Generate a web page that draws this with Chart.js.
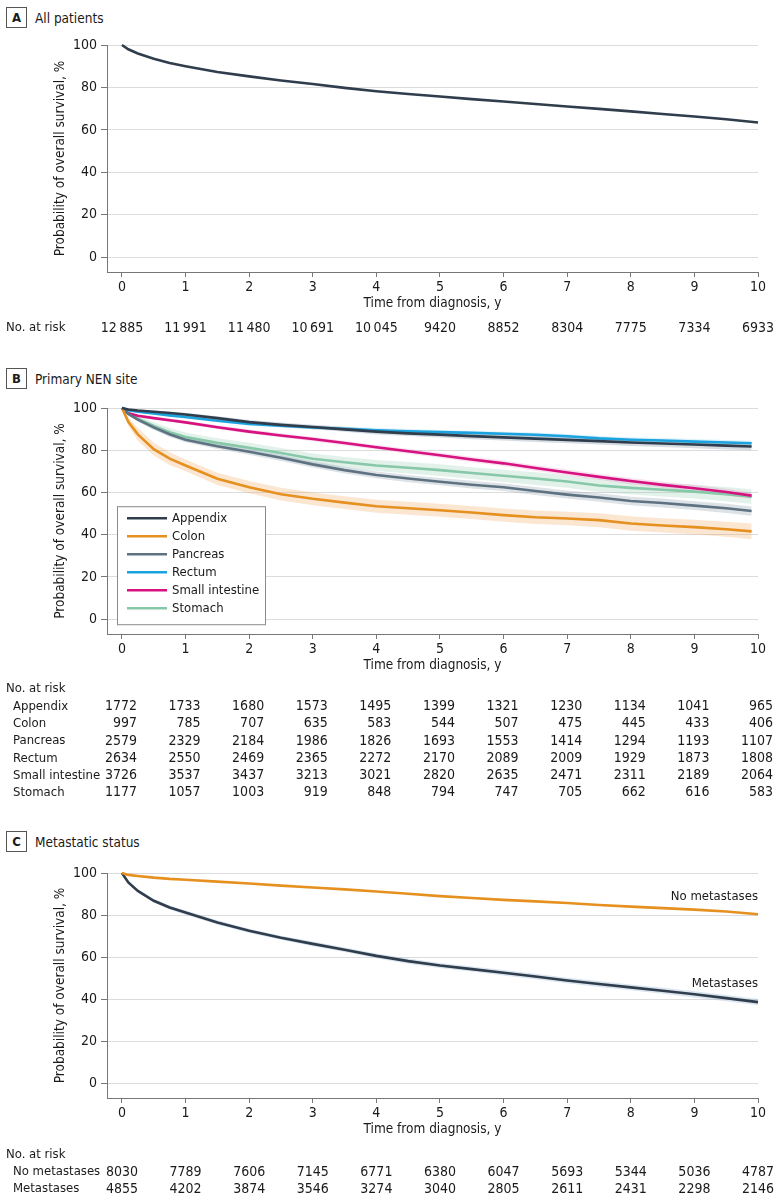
<!DOCTYPE html>
<html>
<head>
<meta charset="utf-8">
<script src="https://cdn.jsdelivr.net/npm/chart.js@4.4.1/dist/chart.umd.min.js"></script>
<style>
  body { margin: 0; background: #fff; width: 780px; height: 1200px; position: relative; overflow: hidden;
         font-family: 'Liberation Sans Narrow', 'DejaVu Sans Condensed', 'Open Sans', sans-serif; color: #1a1a1a; }
  canvas { position: absolute; left: 0; }
  .hd { position: absolute; left: 6px; font-size: 13.5px; display: flex; align-items: center; }
  .hd b { display: inline-block; width: 19px; height: 19px; border: 1px solid #555; text-align: center;
          line-height: 19px; font-size: 13px; margin-right: 8px; }
</style>
</head>
<body>
<div class="hd" style="top:7px"><b>A</b>All patients</div>
<div class="hd" style="top:368px"><b>B</b>Primary NEN site</div>
<div class="hd" style="top:831px"><b>C</b>Metastatic status</div>
<canvas id="chartA" width="780" height="345" style="top:0px"></canvas>
<canvas id="chartB" width="780" height="470" style="top:345px"></canvas>
<canvas id="chartC" width="780" height="385" style="top:815px"></canvas>
<script>
const FONT = "'Liberation Sans Narrow', 'DejaVu Sans Condensed', 'Open Sans', sans-serif";

// ---- data ----
const xTicks = [0, 1, 2, 3, 4, 5, 6, 7, 8, 9, 10];
const yTicks = [0, 20, 40, 60, 80, 100];

// panel A
const timesA = [0, 0.1, 0.25, 0.5, 0.75, 1, 1.5, 2, 2.5, 3, 3.5, 4, 4.5, 5, 5.5, 6, 6.5, 7, 7.5, 8, 8.5, 9, 9.5, 10];
const allPatients = [100, 98.0, 96.0, 93.5, 91.5, 90.0, 87.3, 85.2, 83.3, 81.6, 79.8, 78.2, 76.9, 75.7, 74.5, 73.4, 72.2, 71.0, 69.9, 68.7, 67.5, 66.3, 65.0, 63.5];
const riskA = ['12\u2009885', '11\u2009991', '11\u2009480', '10\u2009691', '10\u2009045', '9420', '8852', '8304', '7775', '7334', '6933'];

// panel B
const timesB = [0, 0.1, 0.25, 0.5, 0.75, 1, 1.5, 2, 2.5, 3, 3.5, 4, 4.5, 5, 5.5, 6, 6.5, 7, 7.5, 8, 8.5, 9, 9.5, 9.9];
const sites = ['Appendix', 'Colon', 'Pancreas', 'Rectum', 'Small intestine', 'Stomach'];
const appendix = [100, 99.3, 98.8, 98.2, 97.6, 96.9, 95.2, 93.3, 92.0, 91.0, 89.9, 88.8, 88.0, 87.4, 86.7, 86.1, 85.5, 84.9, 84.3, 83.7, 83.2, 82.7, 82.2, 81.8];
const appendixHi = [100, 99.7, 99.3, 98.8, 98.3, 97.7, 96.1, 94.3, 93.1, 92.1, 91.1, 90.1, 89.3, 88.8, 88.2, 87.6, 87.1, 86.5, 85.9, 85.4, 84.9, 84.5, 84.0, 83.6];
const appendixLo = [100, 98.9, 98.3, 97.6, 96.9, 96.1, 94.3, 92.3, 90.9, 89.9, 88.7, 87.5, 86.7, 86.0, 85.2, 84.6, 83.9, 83.3, 82.7, 82.0, 81.5, 80.9, 80.4, 80.0];
const colon = [100, 93.5, 87.5, 80.5, 76.0, 72.8, 66.5, 62.5, 59.2, 57.0, 55.2, 53.5, 52.5, 51.6, 50.5, 49.3, 48.3, 47.7, 46.9, 45.3, 44.4, 43.6, 42.6, 41.6];
const colonHi = [100, 95.5, 90.5, 83.5, 79.0, 75.6, 69.4, 65.4, 62.2, 60.0, 58.2, 56.6, 55.6, 54.7, 53.6, 52.4, 51.5, 50.9, 50.2, 48.7, 47.8, 47.1, 46.2, 45.3];
const colonLo = [100, 91.5, 84.5, 77.5, 73.0, 70.0, 63.6, 59.6, 56.2, 54.0, 52.2, 50.4, 49.4, 48.5, 47.4, 46.2, 45.1, 44.5, 43.6, 41.9, 41.0, 40.1, 39.0, 37.9];
const pancreas = [100, 97.2, 94.5, 90.8, 87.6, 85.0, 81.9, 79.3, 76.4, 73.3, 70.6, 68.3, 66.6, 65.1, 63.7, 62.5, 60.7, 59.0, 57.6, 56.0, 55.0, 53.8, 52.5, 51.2];
const pancreasHi = [100, 97.8, 95.4, 91.9, 88.8, 86.2, 83.2, 80.7, 77.9, 74.8, 72.2, 69.9, 68.3, 66.8, 65.5, 64.3, 62.6, 60.9, 59.6, 58.0, 57.1, 55.9, 54.7, 53.4];
const pancreasLo = [100, 96.6, 93.6, 89.7, 86.4, 83.8, 80.6, 77.9, 74.9, 71.8, 69.0, 66.7, 64.9, 63.4, 61.9, 60.7, 58.8, 57.1, 55.6, 54.0, 52.9, 51.7, 50.3, 49.0];
const rectum = [100, 99.0, 98.3, 97.4, 96.5, 95.7, 94.0, 92.5, 91.6, 90.8, 90.2, 89.5, 89.0, 88.6, 88.2, 87.8, 87.3, 86.6, 85.6, 85.0, 84.6, 84.1, 83.7, 83.3];
const rectumHi = [100, 99.4, 98.8, 98.0, 97.2, 96.5, 94.8, 93.3, 92.5, 91.7, 91.1, 90.5, 90.0, 89.6, 89.2, 88.8, 88.4, 87.7, 86.7, 86.1, 85.8, 85.3, 84.9, 84.5];
const rectumLo = [100, 98.6, 97.8, 96.8, 95.8, 94.9, 93.2, 91.7, 90.7, 89.9, 89.3, 88.5, 88.0, 87.6, 87.2, 86.8, 86.2, 85.5, 84.5, 83.9, 83.4, 82.9, 82.5, 82.1];
const smallInt = [100, 97.5, 96.3, 95.2, 94.2, 93.2, 90.9, 88.8, 87.0, 85.3, 83.4, 81.4, 79.5, 77.6, 75.6, 73.8, 71.6, 69.5, 67.4, 65.4, 63.6, 62.0, 60.2, 58.5];
const smallIntHi = [100, 98.0, 96.9, 95.9, 95.0, 94.0, 91.8, 89.8, 88.0, 86.3, 84.5, 82.5, 80.7, 78.8, 76.9, 75.1, 72.9, 70.9, 68.8, 66.9, 65.1, 63.5, 61.8, 60.1];
const smallIntLo = [100, 97.0, 95.7, 94.5, 93.4, 92.4, 90.0, 87.8, 86.0, 84.3, 82.3, 80.3, 78.3, 76.4, 74.3, 72.5, 70.3, 68.1, 66.0, 63.9, 62.1, 60.5, 58.6, 56.9];
const stomach = [100, 97.5, 95.0, 91.5, 88.5, 86.3, 83.5, 81.2, 78.7, 76.0, 74.3, 72.8, 71.7, 70.6, 69.2, 67.9, 66.6, 65.2, 63.3, 62.2, 61.3, 60.4, 59.2, 58.0];
const stomachHi = [100, 98.4, 96.4, 93.3, 90.5, 88.4, 85.7, 83.5, 81.1, 78.5, 76.8, 75.4, 74.4, 73.4, 72.0, 70.8, 69.6, 68.2, 66.4, 65.4, 64.5, 63.7, 62.6, 61.5];
const stomachLo = [100, 96.6, 93.6, 89.7, 86.5, 84.2, 81.3, 78.9, 76.3, 73.5, 71.8, 70.2, 69.0, 67.8, 66.4, 65.0, 63.6, 62.2, 60.2, 59.0, 58.1, 57.1, 55.8, 54.5];
const riskB = [
  ['1772', '1733', '1680', '1573', '1495', '1399', '1321', '1230', '1134', '1041', '965'],
  ['997', '785', '707', '635', '583', '544', '507', '475', '445', '433', '406'],
  ['2579', '2329', '2184', '1986', '1826', '1693', '1553', '1414', '1294', '1193', '1107'],
  ['2634', '2550', '2469', '2365', '2272', '2170', '2089', '2009', '1929', '1873', '1808'],
  ['3726', '3537', '3437', '3213', '3021', '2820', '2635', '2471', '2311', '2189', '2064'],
  ['1177', '1057', '1003', '919', '848', '794', '747', '705', '662', '616', '583']
];

// panel C
const timesC = [0, 0.1, 0.25, 0.5, 0.75, 1, 1.5, 2, 2.5, 3, 3.5, 4, 4.5, 5, 5.5, 6, 6.5, 7, 7.5, 8, 8.5, 9, 9.5, 10];
const groupsC = ['No metastases', 'Metastases'];
const noMet = [100, 99.1, 98.6, 97.8, 97.2, 96.8, 95.9, 95.0, 94.0, 93.1, 92.2, 91.2, 90.1, 89.0, 88.1, 87.2, 86.5, 85.7, 84.8, 84.0, 83.3, 82.6, 81.7, 80.4];
const met = [100, 95.5, 91.5, 86.8, 83.6, 81.2, 76.5, 72.5, 69.2, 66.3, 63.5, 60.6, 58.1, 56.0, 54.3, 52.6, 50.8, 48.9, 47.2, 45.6, 44.0, 42.3, 40.5, 38.6];
const metHi = [100, 96.0, 92.2, 87.6, 84.5, 82.2, 77.5, 73.5, 70.2, 67.4, 64.6, 61.7, 59.3, 57.2, 55.5, 53.9, 52.1, 50.2, 48.6, 47.0, 45.4, 43.8, 42.0, 40.1];
const metLo = [100, 95.0, 90.8, 86.0, 82.7, 80.2, 75.5, 71.5, 68.2, 65.2, 62.4, 59.5, 56.9, 54.8, 53.1, 51.3, 49.5, 47.6, 45.8, 44.2, 42.6, 40.8, 39.0, 37.1];
const riskC = [
  ['8030', '7789', '7606', '7145', '6771', '6380', '6047', '5693', '5344', '5036', '4787'],
  ['4855', '4202', '3874', '3546', '3274', '3040', '2805', '2611', '2431', '2298', '2146']
];

const NAVY = '#2f3d4c', ORANGE = '#e5901f', SLATE = '#5f7282', BLUE = '#1aa3df', MAGENTA = '#d5127f', GREEN = '#86c8a8';

function pts(times, vals) { return times.map((t, i) => ({ x: t, y: vals[i] })); }
function line(label, times, vals, color) {
  return { label, data: pts(times, vals), borderColor: color, backgroundColor: color, borderWidth: 2.6,
           pointRadius: 0, tension: 0, fill: false, clip: false, order: 0 };
}
function band(times, lo, hi, color) {
  return [
    { label: '', band: true, data: pts(times, hi), borderWidth: 0, pointRadius: 0, tension: 0, fill: false, order: 5 },
    { label: '', band: true, data: pts(times, lo), borderWidth: 0, pointRadius: 0, tension: 0, fill: '-1', backgroundColor: color, order: 5 }
  ];
}

Chart.defaults.font.family = FONT;
Chart.defaults.font.size = 14;
Chart.defaults.color = '#1a1a1a';

// number at risk table, drawn under the x axis
const riskTable = {
  id: 'riskTable',
  afterDraw(chart, args, o) {
    const ctx = chart.ctx, xs = chart.scales.x;
    ctx.save();
    ctx.fillStyle = '#1a1a1a';
    ctx.textBaseline = 'middle';
    ctx.textAlign = 'left';
    ctx.font = '13px ' + FONT;
    ctx.fillText('No. at risk', 6, o.top);
    o.rows.forEach((row, r) => {
      const y = o.inline ? o.top : o.top + (r + 1) * o.gap;
      if (!o.inline) {
        ctx.font = '13px ' + FONT;
        ctx.textAlign = 'left';
        ctx.fillText(o.labels[r], 13, y);
      }
      ctx.font = '14px ' + FONT;
      row.forEach((v, i) => {
        const px = xs.getPixelForValue(xTicks[i]);
        if (o.align === 'right') { ctx.textAlign = 'right'; ctx.fillText(v, px + 15, y); }
        else { ctx.textAlign = 'center'; ctx.fillText(v, px, y); }
      });
    });
    ctx.restore();
  }
};

// legend box inside the plot (panel B)
const boxLegend = {
  id: 'boxLegend',
  afterDraw(chart) {
    if (!chart.options.plugins.boxLegend) return;
    const ctx = chart.ctx, area = chart.chartArea, ys = chart.scales.y;
    const items = chart.data.datasets.filter(d => !d.band);
    const left = area.left + 10, bottom = ys.getPixelForValue(0) + 5, h = 118, w = 148;
    ctx.save();
    ctx.fillStyle = '#fff';
    ctx.fillRect(left, bottom - h, w, h);
    ctx.strokeStyle = '#8a8a8a';
    ctx.lineWidth = 1;
    ctx.strokeRect(left + 0.5, bottom - h + 0.5, w, h);
    ctx.font = '13px ' + FONT;
    ctx.textBaseline = 'middle';
    ctx.textAlign = 'left';
    items.forEach((d, i) => {
      const y = bottom - h + 12 + i * 18;
      ctx.strokeStyle = d.borderColor;
      ctx.lineWidth = 2.6;
      ctx.beginPath(); ctx.moveTo(left + 10, y); ctx.lineTo(left + 50, y); ctx.stroke();
      ctx.fillStyle = '#1a1a1a';
      ctx.fillText(d.label, left + 55, y);
    });
    ctx.restore();
  }
};

// curve end labels (panel C)
const endLabels = {
  id: 'endLabels',
  afterDraw(chart) {
    if (!chart.options.plugins.endLabels) return;
    const ctx = chart.ctx, xs = chart.scales.x, ys = chart.scales.y;
    ctx.save();
    ctx.font = '13px ' + FONT;
    ctx.fillStyle = '#1a1a1a';
    ctx.textAlign = 'right';
    ctx.textBaseline = 'middle';
    chart.data.datasets.filter(d => !d.band).forEach(d => {
      const last = d.data[d.data.length - 1];
      ctx.fillText(d.label, xs.getPixelForValue(last.x), ys.getPixelForValue(last.y) - 18);
    });
    ctx.restore();
  }
};

function panel(id, canvasTop, canvasH, plotTop, plotBottom, datasets, plugOpts) {
  const xH = 40;
  return new Chart(document.getElementById(id), {
    type: 'line',
    data: { datasets },
    plugins: [riskTable, boxLegend, endLabels],
    options: {
      responsive: false,
      animation: false,
      events: [],
      layout: { padding: { top: plotTop - canvasTop, left: 0, right: 22,
                           bottom: canvasH - (plotBottom - canvasTop) - xH } },
      plugins: Object.assign({ legend: { display: false }, tooltip: { enabled: false } }, plugOpts),
      scales: {
        x: {
          type: 'linear', min: -0.235, max: 10,
          afterBuildTicks: s => { s.ticks = xTicks.map(v => ({ value: v })); },
          afterFit: s => { s.height = xH; },
          grid: { drawOnChartArea: false, drawTicks: true, tickLength: 5, tickColor: '#777' },
          border: { display: true, color: '#777', width: 1 },
          ticks: { padding: 2, maxRotation: 0, font: { size: 14 } },
          title: { display: true, text: 'Time from diagnosis, y', font: { size: 13.5 }, padding: { top: 0, bottom: 0 } }
        },
        y: {
          min: -7, max: 100,
          afterBuildTicks: s => { s.ticks = yTicks.map(v => ({ value: v })); },
          afterFit: s => { s.width = 107; },
          grid: { color: '#dcdcdc', lineWidth: 1, drawTicks: true, tickLength: 6, tickColor: '#777' },
          border: { display: true, color: '#777', width: 1 },
          ticks: { padding: 4, font: { size: 14 } },
          title: { display: true, text: 'Probability of overall survival, %', font: { size: 13.5 }, padding: { top: 52, bottom: 0 } }
        }
      }
    }
  });
}

panel('chartA', 0, 345, 45, 272,
  [line('All patients', timesA, allPatients, NAVY)],
  { riskTable: { top: 328, inline: true, rows: [riskA], align: 'center' } });

panel('chartB', 345, 470, 408, 634,
  [
    line(sites[0], timesB, appendix, NAVY),
    line(sites[1], timesB, colon, ORANGE),
    line(sites[2], timesB, pancreas, SLATE),
    line(sites[3], timesB, rectum, BLUE),
    line(sites[4], timesB, smallInt, MAGENTA),
    line(sites[5], timesB, stomach, GREEN),
    ...band(timesB, appendixLo, appendixHi, 'rgba(120,140,160,0.30)'),
    ...band(timesB, colonLo, colonHi, 'rgba(240,165,90,0.28)'),
    ...band(timesB, pancreasLo, pancreasHi, 'rgba(120,140,160,0.25)'),
    ...band(timesB, rectumLo, rectumHi, 'rgba(100,190,230,0.22)'),
    ...band(timesB, smallIntLo, smallIntHi, 'rgba(230,100,170,0.20)'),
    ...band(timesB, stomachLo, stomachHi, 'rgba(140,200,170,0.25)')
  ],
  { riskTable: { top: 344, gap: 17.3, labels: sites, rows: riskB, align: 'right' }, boxLegend: true });

panel('chartC', 815, 385, 873, 1098,
  [
    line(groupsC[0], timesC, noMet, ORANGE),
    line(groupsC[1], timesC, met, NAVY),
    ...band(timesC, metLo, metHi, 'rgba(150,180,210,0.35)')
  ],
  { riskTable: { top: 340, gap: 17, labels: groupsC, rows: riskC, align: 'center' }, endLabels: true });
</script>
</body>
</html>
